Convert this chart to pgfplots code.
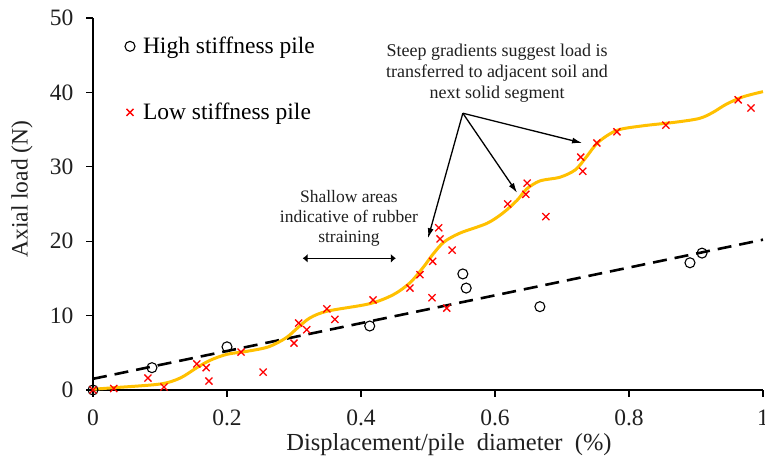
\documentclass[border=0pt]{standalone}
\usepackage{fontspec}
\setmainfont{Liberation Serif}
\usepackage{pgfplots}
\pgfplotsset{compat=1.18}
\usetikzlibrary{arrows.meta}
\definecolor{curveorange}{HTML}{FFC000}

\begin{document}
\begin{tikzpicture}
\begin{axis}[
  width=670pt, height=372pt, scale only axis,
  xmin=0, xmax=1, ymin=0, ymax=50,
  axis lines*=left,
  axis line style={line width=1.3pt},
  tick align=outside,
  major tick length=7pt,
  tick style={line width=1.1pt, black},
  xtick={0,0.2,0.4,0.6,0.8,1},
  ytick={0,10,20,30,40,50},
  /pgf/number format/assume math mode=true,
  ticklabel style={font=\fontsize{23.5}{28}\selectfont, text=black!88},
  xticklabel style={yshift=-9pt},
  yticklabel style={xshift=-9pt},
  xlabel={Displacement/pile\ \ diameter\ \ (\%)},
  ylabel={Axial load (N)},
  label style={font=\fontsize{23.5}{28}\selectfont, text=black!88},
  xlabel style={font=\fontsize{24.5}{28}\selectfont, xshift=21pt, yshift=-1.5pt},
  ylabel style={at={(axis description cs:-0.106,0.54)}, anchor=center},
  clip=false,
  legend style={draw=none, fill=none, at={(0.043,0.835)}, anchor=west,
    font=\fontsize{23.5}{28}\selectfont, row sep=44pt,
    /tikz/every odd column/.append style={column sep=6pt}},
  legend cell align=left,
  legend image code/.code={\draw[mark repeat=2,mark phase=2,#1] plot coordinates {(-5pt,0pt) (0pt,0pt) (5pt,0pt)};},
]
% fitted line, high stiffness
\addplot[black, line width=2.6pt, dash pattern=on 14pt off 8pt, forget plot]
  coordinates {(0,1.5) (1,20.2)};
% smoothed curve, low stiffness
\addplot[curveorange, line width=3pt, smooth, forget plot] coordinates {
  (0,0.1) (0.030,0.3) (0.100,0.8) (0.130,1.6) (0.155,3.0) (0.175,4.0)
  (0.200,4.8) (0.230,5.2) (0.262,5.8) (0.288,7.0) (0.306,8.4) (0.324,9.7)
  (0.350,10.6) (0.413,11.6) (0.448,12.8) (0.473,14.4) (0.493,16.5)
  (0.507,18.2) (0.524,19.9) (0.548,21.1) (0.588,22.4) (0.612,23.8)
  (0.633,25.5) (0.647,27.0) (0.667,28.1) (0.697,28.6) (0.720,29.6)
  (0.737,31.4) (0.754,33.3) (0.782,34.9) (0.820,35.5) (0.870,36.0)
  (0.905,36.5) (0.925,37.3) (0.945,38.4) (0.970,39.4) (1.0,40.1)};
\addplot[only marks, mark=o, mark size=5pt, black, line width=1.1pt] coordinates {
  (0,0) (0.088,3.0) (0.200,5.8) (0.413,8.6) (0.552,15.6) (0.557,13.7)
  (0.667,11.2) (0.891,17.1) (0.909,18.4)};
\addlegendentry{High stiffness pile}
\addplot[only marks, mark=x, mark size=5pt, red, line width=1.3pt] coordinates {
  (0,0) (0.031,0.2) (0.082,1.6) (0.106,0.4) (0.155,3.5) (0.169,3.0)
  (0.173,1.2) (0.221,5.1) (0.254,2.4) (0.300,6.3) (0.307,9.0) (0.319,8.1)
  (0.349,10.9) (0.361,9.5) (0.418,12.1) (0.473,13.7) (0.488,15.5)
  (0.507,17.3) (0.536,18.8) (0.518,20.3) (0.516,21.8) (0.506,12.4)
  (0.528,11.0) (0.619,25.0) (0.646,26.3) (0.648,27.8) (0.676,23.3)
  (0.728,31.3) (0.731,29.4) (0.752,33.2) (0.782,34.7) (0.855,35.6)
  (0.963,39.0) (0.982,37.9)};
\addlegendentry{Low stiffness pile}
% annotations
\node[align=center, font=\fontsize{18}{21}\selectfont, text=black!88] at (axis cs:0.603,42.6)
  {Steep gradients suggest load is\\transferred to adjacent soil and\\next solid segment};
\draw[-{Latex[length=10pt,width=6pt]}, line width=1.3pt] (axis cs:0.552,37.2) -- (axis cs:0.500,20.4);
\draw[-{Latex[length=10pt,width=6pt]}, line width=1.3pt] (axis cs:0.552,37.2) -- (axis cs:0.633,26.5);
\draw[-{Latex[length=10pt,width=6pt]}, line width=1.3pt] (axis cs:0.552,37.2) -- (axis cs:0.730,33.2);
\node[align=center, font=\fontsize{17.5}{20}\selectfont, text=black!88] at (axis cs:0.382,23.1)
  {Shallow areas\\indicative of rubber\\straining};
\draw[{Latex[length=5pt,width=9pt]}-{Latex[length=5pt,width=9pt]}, line width=1.4pt]
  (axis cs:0.313,17.7) -- (axis cs:0.452,17.7);
\coordinate (ll) at (rel axis cs:0,0);
\coordinate (ur) at (rel axis cs:1,1);
\end{axis}
\pgfresetboundingbox
\path ([shift={(-93pt,-68pt)}]ll) rectangle ([shift={(2pt,18pt)}]ur);
\end{tikzpicture}
\end{document}
